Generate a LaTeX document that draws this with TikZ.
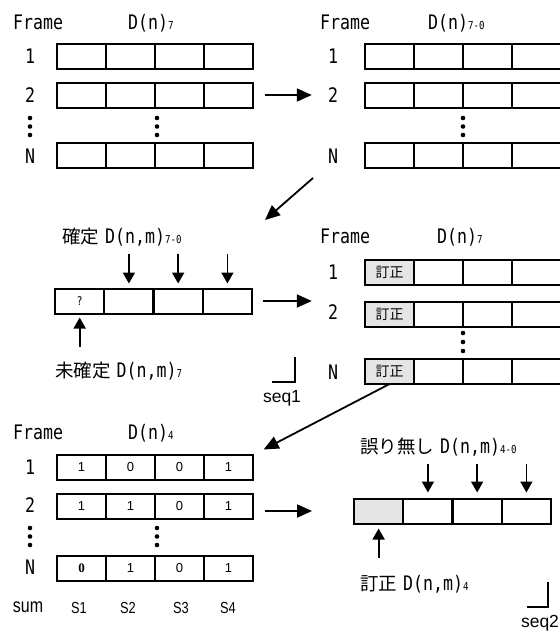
\documentclass[tikz,border=0pt]{standalone}
\usepackage{fontspec}
\setmainfont{Liberation Sans}
\newfontfamily\jpf{Noto Sans CJK JP}
\newfontfamily\monof[FakeStretch=0.83]{DejaVu Sans Mono}
\newfontfamily\narrowf[FakeStretch=0.8]{Liberation Sans}
\newfontfamily\serf{Liberation Serif}
\usetikzlibrary{arrows.meta}
\newcommand\subs[1]{{\fontsize{11}{11}\selectfont\monof #1}}
\newcommand\jtx[1]{{\fontsize{18.5}{18.5}\selectfont\jpf #1}\hspace{6pt}}
\newcommand\dnm[1]{{\monof\fontsize{20}{20}\selectfont D(n,m)\subs{#1}}}
\tikzset{
  cell/.style={draw, line width=2pt, minimum width=49pt, minimum height=25pt, inner sep=0pt, outer sep=0pt},
  gcell/.style={cell, fill=black!10},
  mlab/.style={inner sep=0pt, font=\monof\fontsize{20}{20}\selectfont},
  num/.style={font=\fontsize{13}{13}\selectfont},
  slab/.style={inner sep=0pt, font=\narrowf\fontsize{16}{16}\selectfont},
  arr/.style={line width=1.8pt, -{Triangle[length=15pt,width=13pt]}},
  darr/.style={line width=1.8pt, -{Triangle[length=11pt,width=12pt]}},
  brk/.style={line width=1.8pt},
}
\begin{document}
\begin{tikzpicture}[x=1pt,y=-1pt]
\useasboundingbox (0,0) rectangle (560,633);

% ---------- top left ----------
\node[mlab, anchor=base west] (tlF) at (13,29) {Frame};
\node[mlab, anchor=base west] (tlD) at (128,29) {D(n)\subs{7}};
\foreach \r/\y in {1/56,2/95,N/155.5}
  \foreach \c in {1,...,4}
    \node[cell] (tl\r-\c) at ({57+49*\c-24.5},\y) {};
\node[mlab] (tlL1) at (30,56) {1};
\node[mlab] (tlL2) at (30,95) {2};
\node[mlab] (tlLN) at (30,156) {N};
\foreach \x in {30,157} \foreach \y in {118,126.5,135} \fill (\x,\y) circle (2.3pt);

% ---------- top right ----------
\node[mlab, anchor=base west] (trF) at (320,29) {Frame};
\node[mlab, anchor=base west] (trD) at (428,29) {D(n)\subs{7-0}};
\foreach \r/\y in {1/56,2/95,N/155}
  \foreach \c in {1,...,4}
    \node[cell] (tr\r-\c) at ({365+49*\c-24.5},\y) {};
\node[mlab] (trL1) at (333,56) {1};
\node[mlab] (trL2) at (333,95) {2};
\node[mlab] (trLN) at (333,156) {N};
\foreach \y in {118,126.5,135} \fill (463,\y) circle (2.3pt);

% ---------- middle left ----------
\node[inner sep=0pt, anchor=base west] (mlT) at (62,243) {\jtx{確定}\dnm{7-0}};
\foreach \c in {1,...,4}
  \node[cell] (ml-\c) at ({55+49.25*\c-24.6},301) {};
\node[font=\monof\fontsize{12}{12}\selectfont] at (ml-1) {?};
\foreach \c in {2,3,4}
  \draw[darr] ([yshift=35pt]ml-\c.north) -- ([yshift=5pt]ml-\c.north);
\draw[darr] ([yshift=-33pt]ml-1.south) -- ([yshift=-4pt]ml-1.south);
\node[inner sep=0pt, anchor=base west] (mlB) at (55,377) {\jtx{未確定}\dnm{7}};

% ---------- middle right ----------
\node[mlab, anchor=base west] (mrF) at (320,243) {Frame};
\node[mlab, anchor=base west] (mrD) at (437,243) {D(n)\subs{7}};
\foreach \r/\y in {1/272,2/314,N/371.5} {
  \node[gcell, font=\jpf\fontsize{14}{14}\selectfont] (mr\r-1) at (389.5,\y) {訂正};
  \foreach \c in {2,3,4}
    \node[cell] (mr\r-\c) at ({365+49*\c-24.5},\y) {};
}
\node[mlab] (mrL1) at (333,272) {1};
\node[mlab] (mrL2) at (333,312) {2};
\node[mlab] (mrLN) at (333,372) {N};
\foreach \y in {333,342,351} \fill (463,\y) circle (2.3pt);
\draw[brk] (272,382) -- (295,382) -- (295,357);
\node[font=\fontsize{17.5}{17.5}\selectfont] (seq1) at (282,398) {seq1};

% ---------- bottom left ----------
\node[mlab, anchor=base west] (blF) at (13,439) {Frame};
\node[mlab, anchor=base west] (blD) at (128,439) {D(n)\subs{4}};
\foreach \r/\y/\a/\b/\cc/\d in {1/467.5/1/0/0/1, 2/506/1/1/0/1, N/568/{\serf\bfseries 0}/1/0/1} {
  \node[cell, num] (bl\r-1) at (81.5,\y) {\a};
  \node[cell, num] (bl\r-2) at (130.5,\y) {\b};
  \node[cell, num] (bl\r-3) at (179.5,\y) {\cc};
  \node[cell, num] (bl\r-4) at (228.5,\y) {\d};
}
\node[mlab] (blL1) at (30,467) {1};
\node[mlab] (blL2) at (30,505) {2};
\node[mlab] (blLN) at (30,567) {N};
\foreach \x in {30,157} \foreach \y in {528,536.5,545} \fill (\x,\y) circle (2.3pt);
\node[inner sep=0pt, font=\narrowf\fontsize{20}{20}\selectfont] (sum) at (28,607) {sum};
\node[slab] (s1) at (79,608) {S1};
\node[slab] (s2) at (128,608) {S2};
\node[slab] (s3) at (181,608) {S3};
\node[slab] (s4) at (228,608) {S4};

% ---------- bottom right ----------
\node[inner sep=0pt, anchor=base west] (brT) at (360,453) {\jtx{誤り無し}\dnm{4-0}};
\node[gcell] (br-1) at (378.6,511) {};
\foreach \c in {2,3,4}
  \node[cell] (br-\c) at ({354+49.25*\c-24.6},511) {};
\foreach \c in {2,3,4}
  \draw[darr] ([yshift=35pt]br-\c.north) -- ([yshift=6pt]br-\c.north);
\draw[darr] ([yshift=-34pt]br-1.south) -- ([yshift=-5pt]br-1.south);
\node[inner sep=0pt, anchor=base west] (brB) at (360,590) {\jtx{訂正}\dnm{4}};
\draw[brk] (527,607) -- (548,607) -- (548,582);
\node[font=\fontsize{17.5}{17.5}\selectfont] (seq2) at (540,623) {seq2};

% ---------- connectors ----------
\coordinate (a2s) at (313,178);
\coordinate (a2e) at (265,220);
\draw[arr, shorten <=12pt, shorten >=16pt] (tl2-4.east) -- (tl2-4.east -| trL2.west);
\draw[arr] (a2s) -- (a2e);
\draw[arr, shorten <=11pt, shorten >=16pt] (ml-4.east) -- (ml-4.east -| mrL2.west);
\draw[arr, shorten >=12pt] (mrN-1.south) -- (bl1-4.north east);
\draw[arr, shorten <=12pt, shorten >=42pt] (bl2-4.east |- br-1.west) -- (br-1.west);
\end{tikzpicture}
\end{document}
